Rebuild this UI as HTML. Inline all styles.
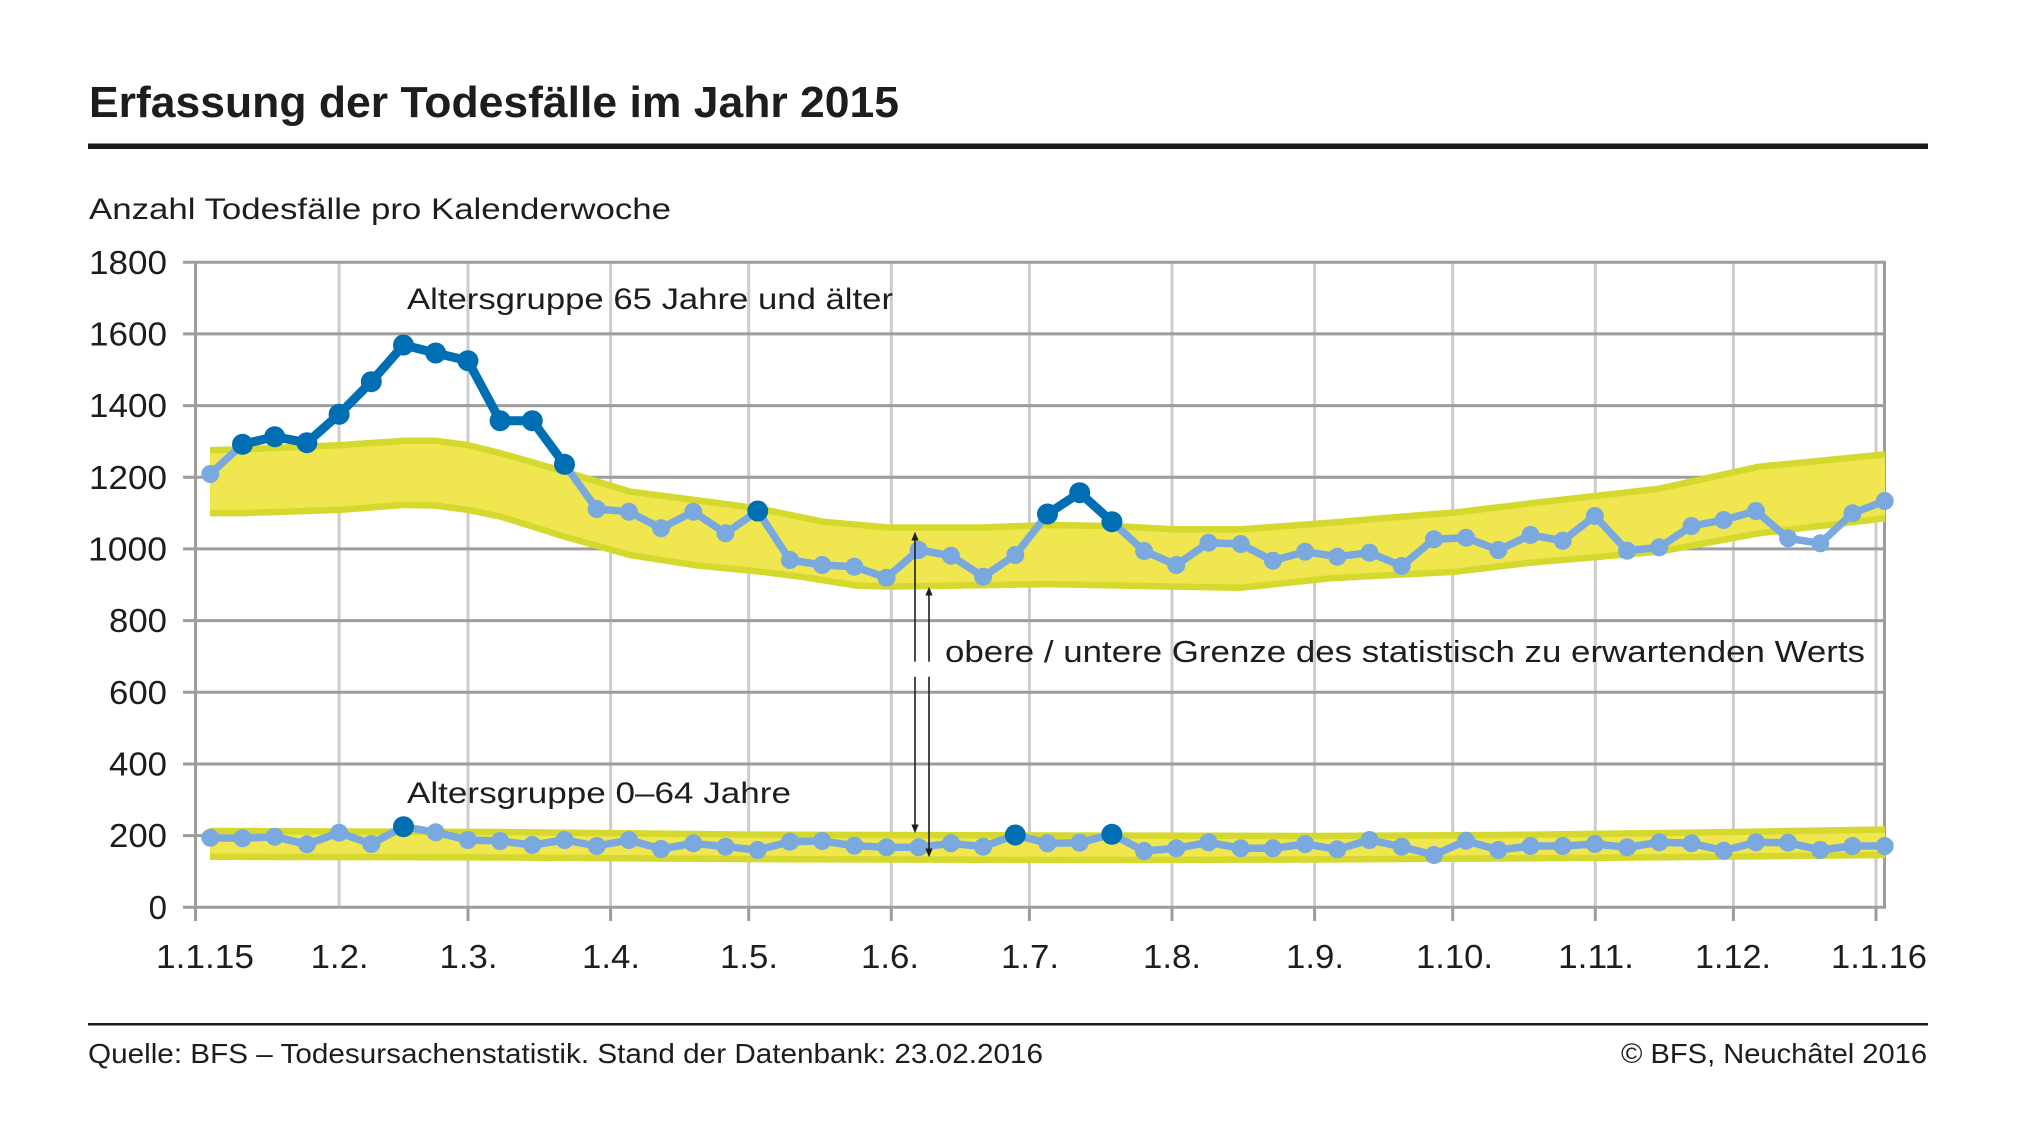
<!DOCTYPE html>
<html><head><meta charset="utf-8"><style>
html,body{margin:0;padding:0;background:#fff;}
svg{display:block;}
text{font-family:"Liberation Sans",Arial,sans-serif;fill:#1d1d1b;}
</style></head><body>
<svg width="2019" height="1141" viewBox="0 0 2019 1141" xmlns="http://www.w3.org/2000/svg">
<defs>
<marker id="ml" markerUnits="userSpaceOnUse" markerWidth="24" markerHeight="24" refX="12" refY="12" viewBox="0 0 24 24"><circle cx="12" cy="12" r="9" fill="#79a9de"/></marker>
<marker id="md" markerUnits="userSpaceOnUse" markerWidth="26" markerHeight="26" refX="13" refY="13" viewBox="0 0 26 26"><circle cx="13" cy="13" r="10.5" fill="#006eb3"/></marker>
</defs>
<rect width="2019" height="1141" fill="#fff"/>

<!-- title -->
<text x="89" y="117" font-size="44" font-weight="bold" textLength="810" lengthAdjust="spacingAndGlyphs">Erfassung der Todesfälle im Jahr 2015</text>
<rect x="88" y="143.5" width="1840" height="5.5" fill="#1a1a1a"/>
<text x="89" y="219" font-size="30" textLength="582" lengthAdjust="spacingAndGlyphs">Anzahl Todesfälle pro Kalenderwoche</text>

<!-- vertical light gridlines -->
<g stroke="#cdcdcd" stroke-width="3">
<line x1="339.1" y1="262.3" x2="339.1" y2="907.3"/>
<line x1="468" y1="262.3" x2="468" y2="907.3"/>
<line x1="610.6" y1="262.3" x2="610.6" y2="907.3"/>
<line x1="748.7" y1="262.3" x2="748.7" y2="907.3"/>
<line x1="891.3" y1="262.3" x2="891.3" y2="907.3"/>
<line x1="1029.4" y1="262.3" x2="1029.4" y2="907.3"/>
<line x1="1172" y1="262.3" x2="1172" y2="907.3"/>
<line x1="1314.6" y1="262.3" x2="1314.6" y2="907.3"/>
<line x1="1452.7" y1="262.3" x2="1452.7" y2="907.3"/>
<line x1="1595.3" y1="262.3" x2="1595.3" y2="907.3"/>
<line x1="1733.4" y1="262.3" x2="1733.4" y2="907.3"/>
<line x1="1876" y1="262.3" x2="1876" y2="907.3"/>
</g>
<!-- horizontal gridlines -->
<g stroke="#9d9d9d" stroke-width="3">
<line x1="183" y1="262.3" x2="1886" y2="262.3"/>
<line x1="183" y1="333.9" x2="1886" y2="333.9"/>
<line x1="183" y1="405.6" x2="1886" y2="405.6"/>
<line x1="183" y1="477.3" x2="1886" y2="477.3"/>
<line x1="183" y1="548.9" x2="1886" y2="548.9"/>
<line x1="183" y1="620.6" x2="1886" y2="620.6"/>
<line x1="183" y1="692.3" x2="1886" y2="692.3"/>
<line x1="183" y1="764" x2="1886" y2="764"/>
<line x1="183" y1="835.6" x2="1886" y2="835.6"/>
<line x1="183" y1="907.3" x2="1886" y2="907.3"/>
<line x1="195.5" y1="262.3" x2="195.5" y2="921"/>
<line x1="1884.5" y1="261" x2="1884.5" y2="908.5"/>
<line x1="468" y1="907" x2="468" y2="921"/>
<line x1="610.6" y1="907" x2="610.6" y2="921"/>
<line x1="748.7" y1="907" x2="748.7" y2="921"/>
<line x1="891.3" y1="907" x2="891.3" y2="921"/>
<line x1="1029.4" y1="907" x2="1029.4" y2="921"/>
<line x1="1172" y1="907" x2="1172" y2="921"/>
<line x1="1314.6" y1="907" x2="1314.6" y2="921"/>
<line x1="1452.7" y1="907" x2="1452.7" y2="921"/>
<line x1="1595.3" y1="907" x2="1595.3" y2="921"/>
<line x1="1733.4" y1="907" x2="1733.4" y2="921"/>
<line x1="1876" y1="907" x2="1876" y2="921"/>
</g>

<!-- y labels -->
<g font-size="33">
<text x="89" y="273.8" textLength="78" lengthAdjust="spacingAndGlyphs">1800</text>
<text x="89" y="345.4" textLength="78" lengthAdjust="spacingAndGlyphs">1600</text>
<text x="89" y="417.1" textLength="78" lengthAdjust="spacingAndGlyphs">1400</text>
<text x="89" y="488.8" textLength="78" lengthAdjust="spacingAndGlyphs">1200</text>
<text x="88" y="560.4" textLength="79" lengthAdjust="spacingAndGlyphs">1000</text>
<text x="109" y="632.1" textLength="58" lengthAdjust="spacingAndGlyphs">800</text>
<text x="109" y="703.8" textLength="58" lengthAdjust="spacingAndGlyphs">600</text>
<text x="109" y="775.5" textLength="58" lengthAdjust="spacingAndGlyphs">400</text>
<text x="109" y="847.1" textLength="58" lengthAdjust="spacingAndGlyphs">200</text>
<text x="167" y="918.8" text-anchor="end">0</text>
</g>
<!-- x labels -->
<g font-size="33">
<text x="156" y="968" textLength="98" lengthAdjust="spacingAndGlyphs">1.1.15</text>
<text x="310.6" y="968" textLength="58" lengthAdjust="spacingAndGlyphs">1.2.</text>
<text x="439.5" y="968" textLength="58" lengthAdjust="spacingAndGlyphs">1.3.</text>
<text x="582" y="968" textLength="58" lengthAdjust="spacingAndGlyphs">1.4.</text>
<text x="720" y="968" textLength="58" lengthAdjust="spacingAndGlyphs">1.5.</text>
<text x="861" y="968" textLength="58" lengthAdjust="spacingAndGlyphs">1.6.</text>
<text x="1001" y="968" textLength="58" lengthAdjust="spacingAndGlyphs">1.7.</text>
<text x="1143" y="968" textLength="58" lengthAdjust="spacingAndGlyphs">1.8.</text>
<text x="1286" y="968" textLength="58" lengthAdjust="spacingAndGlyphs">1.9.</text>
<text x="1416" y="968" textLength="77" lengthAdjust="spacingAndGlyphs">1.10.</text>
<text x="1558" y="968" textLength="76" lengthAdjust="spacingAndGlyphs">1.11.</text>
<text x="1695" y="968" textLength="76" lengthAdjust="spacingAndGlyphs">1.12.</text>
<text x="1831" y="968" textLength="96" lengthAdjust="spacingAndGlyphs">1.1.16</text>
</g>

<!-- 65+ band -->
<polygon fill="#f0e64f" points="210,450.1 243,449.4 340,445.1 404,440.8 436,440.8 468,445.1 501,453.3 565,471.6 630,491.6 694,499.9 759,508.5 823,521.7 888,527.5 982,527.5 1048,525 1113,526 1174,529.3 1241,529.3 1330,522.8 1400,516.7 1456,512.4 1530,503.4 1659,488.7 1759,466.7 1885,454.4 1885,518.3 1759,533.3 1659,551.7 1530,562.7 1456,571.7 1330,578.3 1300,581.5 1241,587.7 1174,586.6 1048,584.1 888,586.6 856,585.5 800,576.6 759,571.5 694,565.1 630,555.1 565,536.8 501,516.7 468,509.9 436,505.6 404,504.9 340,509.9 243,513.1 210,513.1"/>
<g fill="none" stroke="#d5d92e" stroke-width="6.5" stroke-linejoin="round">
<polyline points="210,450.1 243,449.4 340,445.1 404,440.8 436,440.8 468,445.1 501,453.3 565,471.6 630,491.6 694,499.9 759,508.5 823,521.7 888,527.5 982,527.5 1048,525 1113,526 1174,529.3 1241,529.3 1330,522.8 1400,516.7 1456,512.4 1530,503.4 1659,488.7 1759,466.7 1885,454.4"/>
<polyline points="210,513.1 243,513.1 340,509.9 404,504.9 436,505.6 468,509.9 501,516.7 565,536.8 630,555.1 694,565.1 759,571.5 800,576.6 856,585.5 888,586.6 1048,584.1 1174,586.6 1241,587.7 1300,581.5 1330,578.3 1456,571.7 1530,562.7 1659,551.7 1759,533.3 1885,518.3"/>
</g>
<!-- 0-64 band -->
<polygon fill="#f0e64f" points="210,831 500,832 740,834.5 1050,835.5 1314,836 1500,835 1700,832.5 1885,829.5 1885,855 1700,857 1500,858.5 1314,859.5 1050,860 740,859 500,857.5 210,856.7"/>
<g fill="none" stroke="#d5d92e" stroke-width="6.5" stroke-linejoin="round">
<polyline points="210,831 500,832 740,834.5 1050,835.5 1314,836 1500,835 1700,832.5 1885,829.5"/>
<polyline points="210,856.7 500,857.5 740,859 1050,860 1314,859.5 1500,858.5 1700,857 1885,855"/>
</g>

<!-- 65+ series -->
<polyline fill="none" stroke="#79a9de" stroke-width="7.5" stroke-linejoin="round" marker-start="url(#ml)" marker-mid="url(#ml)" marker-end="url(#ml)" points="210.3,474 242.5,444.3 274.7,436.7 306.9,442.7 339.1,414.3 371.3,381.7 403.5,345 435.7,353 467.9,360.7 500.1,420.7 532.3,420.7 564.5,464.3 596.7,509 628.9,511.7 661.1,528.3 693.3,511.7 725.5,533.3 757.7,511 789.9,560 822.1,565 854.3,566.7 886.5,577.7 918.7,550 950.9,555.7 983.1,576.7 1015.3,555 1047.5,514 1079.7,492.7 1111.9,521.7 1144.1,551 1176.3,565 1208.5,542.7 1240.7,544 1272.9,560.7 1305.1,551.7 1337.3,556.7 1369.5,552.7 1401.7,566 1433.9,539.3 1466.1,537.7 1498.3,550 1530.5,535 1562.7,540.7 1594.9,516 1627.1,550.7 1659.3,547.3 1691.5,526 1723.7,520 1755.9,511 1788.1,538.3 1820.3,543.3 1852.5,513.3 1884.7,501"/>
<g fill="none" stroke="#006eb3" stroke-width="9" stroke-linejoin="round">
<polyline marker-start="url(#md)" marker-mid="url(#md)" marker-end="url(#md)" points="242.5,444.3 274.7,436.7 306.9,442.7 339.1,414.3 371.3,381.7 403.5,345 435.7,353 467.9,360.7 500.1,420.7 532.3,420.7 564.5,464.3"/>
<polyline marker-start="url(#md)" marker-mid="url(#md)" marker-end="url(#md)" points="1047.5,514 1079.7,492.7 1111.9,521.7"/>
</g>
<circle cx="757.7" cy="511" r="10.5" fill="#006eb3"/>

<!-- 0-64 series -->
<polyline fill="none" stroke="#79a9de" stroke-width="7.5" stroke-linejoin="round" marker-start="url(#ml)" marker-mid="url(#ml)" marker-end="url(#ml)" points="210.3,837.7 242.5,838.3 274.7,836.7 306.9,844.3 339.1,832.7 371.3,844 403.5,826.7 435.7,832.3 467.9,840 500.1,841 532.3,845 564.5,840 596.7,846 628.9,840 661.1,849 693.3,843.3 725.5,846.7 757.7,850 789.9,841.7 822.1,841 854.3,845.7 886.5,847.3 918.7,847.3 950.9,843.3 983.1,846.7 1015.3,835 1047.5,843.3 1079.7,842.7 1111.9,834.3 1144.1,851 1176.3,848.3 1208.5,842.3 1240.7,848.3 1272.9,848.3 1305.1,844 1337.3,849.3 1369.5,840 1401.7,846.7 1433.9,855 1466.1,840.7 1498.3,850 1530.5,846 1562.7,846 1594.9,844 1627.1,847.3 1659.3,842.3 1691.5,843.3 1723.7,850.7 1755.9,842.3 1788.1,842.7 1820.3,850 1852.5,846 1884.7,846"/>
<g fill="#006eb3">
<circle cx="403.5" cy="826.7" r="10.5"/>
<circle cx="1015.3" cy="835" r="10.5"/>
<circle cx="1111.9" cy="834.3" r="10.5"/>
</g>

<!-- arrows -->
<g stroke="#1d1d1b" stroke-width="1.6">
<line x1="915" y1="538" x2="915" y2="661.7"/>
<line x1="915" y1="676.7" x2="915" y2="826"/>
<line x1="929" y1="593" x2="929" y2="661.7"/>
<line x1="929" y1="676.7" x2="929" y2="850"/>
</g>
<g fill="#1d1d1b">
<polygon points="915,531.7 911.4,540.5 918.6,540.5"/>
<polygon points="915,833.3 911.4,824.5 918.6,824.5"/>
<polygon points="929,586.7 925.4,595.5 932.6,595.5"/>
<polygon points="929,857.3 925.4,848.5 932.6,848.5"/>
</g>

<!-- annotations -->
<text x="407" y="309" font-size="30" textLength="486" lengthAdjust="spacingAndGlyphs">Altersgruppe 65 Jahre und älter</text>
<text x="407" y="803" font-size="30" textLength="384" lengthAdjust="spacingAndGlyphs">Altersgruppe 0–64 Jahre</text>
<text x="945" y="662" font-size="31" textLength="920" lengthAdjust="spacingAndGlyphs">obere / untere Grenze des statistisch zu erwartenden Werts</text>

<!-- footer -->
<rect x="88" y="1023" width="1840" height="2.5" fill="#1a1a1a"/>
<text x="88" y="1063" font-size="28" textLength="955" lengthAdjust="spacingAndGlyphs">Quelle: BFS – Todesursachenstatistik. Stand der Datenbank: 23.02.2016</text>
<text x="1621" y="1063" font-size="28" textLength="306" lengthAdjust="spacingAndGlyphs">© BFS, Neuchâtel 2016</text>
</svg>
</body></html>
